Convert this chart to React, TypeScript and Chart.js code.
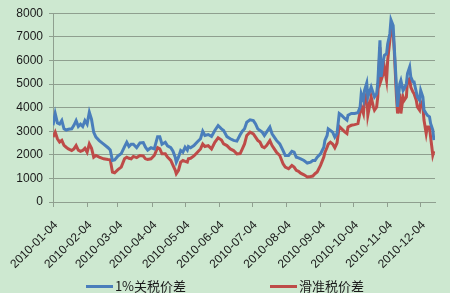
import React, { useEffect, useRef } from "react";
import { Chart, registerables } from "chart.js";

Chart.register(...registerables);

// Days since 2010-01-04
const dayOffsets = [
  0, 2, 4, 6, 8, 10, 12, 14, 17, 19, 21, 23, 25, 27, 29, 31, 33, 35, 37, 39,
  42, 46, 50, 52, 54, 56, 59, 62, 65, 67, 69, 71, 73, 76, 79, 82, 84, 86, 89, 92,
  95, 97, 99, 102, 104, 107, 109, 111, 112, 114, 116, 118, 120, 122, 123, 125, 128, 131, 134, 136,
  138, 141, 144, 147, 150, 153, 155, 158, 161, 164, 167, 170, 172, 174, 176, 179, 182, 184, 186, 188,
  190, 192, 194, 197, 199, 201, 203, 206, 209, 211, 214, 217, 219, 221, 223, 225, 228, 231, 234, 236,
  238, 240, 243, 246, 247, 249, 250, 252, 254, 256, 258, 260, 262, 265, 267, 268, 271, 274, 277, 279,
  280, 282, 283, 285, 286, 288, 289, 291, 292, 294, 295, 297, 298, 300, 301, 303, 304, 306, 307, 309,
  310, 312, 313, 315, 316, 318, 319, 321, 322, 324, 325, 327, 328, 330, 331, 333, 334, 336, 337, 339,
  340, 342, 343, 345, 346,
];

const blueValues = [
  3250, 3750, 3350, 3300, 3450, 3100, 3050, 3080, 3100, 3250, 3450, 3200, 3300, 3200, 3450, 3300, 3800, 3500, 2950, 2750,
  2600, 2450, 2300, 2200, 1760, 1780, 1950, 2050, 2350, 2530, 2350, 2450, 2450, 2300, 2500, 2520, 2320, 2200, 2300, 2250,
  2770, 2770, 2450, 2530, 2380, 2300, 2150, 1900, 1690, 1900, 2180, 2110, 2320, 2200, 2350, 2300, 2390, 2540, 2680, 3000,
  2820, 2860, 2780, 3030, 3240, 3100, 3030, 2770, 2680, 2610, 2580, 2850, 3000, 3100, 3380, 3480, 3450, 3310, 3100, 3030,
  2960, 2820, 2960, 3170, 2890, 2750, 2610, 2460, 2180, 1970, 1970, 2150, 2110, 1900, 1870, 1830, 1760, 1650, 1690, 1760,
  1760, 1900, 2040, 2320, 2610, 2820, 3100, 3030, 2960, 2750, 2900, 3750, 3680, 3540, 3470, 3680, 3750, 3750, 3780, 4030,
  4590, 4310, 4730, 5040, 4450, 4730, 4870, 4590, 4450, 4590, 5010, 6850, 5300, 6000, 6210, 6280, 6700, 7130, 7720, 7480,
  6560, 4870, 4030, 5010, 5150, 4730, 4800, 5010, 5440, 5720, 5300, 5080, 5080, 4660, 4450, 4310, 4730, 4450, 3900, 3750,
  3680, 3610, 3330, 3050, 2620,
];

const redValues = [
  2750, 2960, 2680, 2540, 2610, 2400, 2320, 2250, 2180, 2250, 2390, 2200, 2150, 2180, 2280, 2110, 2460, 2280, 1900, 1970,
  1900, 1830, 1800, 1790, 1270, 1240, 1370, 1480, 1830, 1900, 1850, 1830, 1930, 1880, 1970, 1950, 1830, 1800, 1830, 1970,
  2300, 2250, 2040, 2040, 1900, 1760, 1550, 1350, 1200, 1340, 1690, 1760, 1720, 1690, 1830, 1850, 1950, 2100, 2250, 2460,
  2350, 2390, 2250, 2530, 2720, 2630, 2460, 2390, 2250, 2180, 2040, 2050, 2250, 2460, 2820, 2960, 2890, 2750, 2610, 2540,
  2350, 2300, 2390, 2600, 2390, 2250, 2110, 1970, 1620, 1480, 1410, 1550, 1480, 1340, 1300, 1220, 1150, 1060, 1080, 1100,
  1200, 1270, 1550, 1900, 2100, 2320, 2450, 2530, 2460, 2300, 2500, 3200, 3110, 2970, 2900, 3180, 3250, 3280, 3320, 3820,
  4030, 3750, 4310, 4590, 3680, 4170, 4450, 4030, 3890, 4030, 4450, 6560, 5160, 5440, 5720, 5160, 6000, 6850, 7350, 7130,
  6420, 4450, 3750, 4590, 3750, 4450, 4310, 4450, 5160, 5230, 4870, 4660, 4590, 4310, 4030, 3890, 4240, 4030, 3470, 2900,
  3180, 3180, 2760, 1990, 2150,
];

const seriesNames = ["1%关税价差", "滑准税价差"];
const seriesColors = ["#4a7ebb", "#be4b48"];
const startDate = "2010-01-04";
const tickLabels = [
  "2010-01-04", "2010-02-04", "2010-03-04", "2010-04-04", "2010-05-04", "2010-06-04",
  "2010-07-04", "2010-08-04", "2010-09-04", "2010-10-04", "2010-11-04", "2010-12-04",
];
const yTicks = [0, 1000, 2000, 3000, 4000, 5000, 6000, 7000, 8000];

const toDay = (s: string) => {
  const [y, m, d] = s.split("-").map(Number);
  const [y0, m0, d0] = startDate.split("-").map(Number);
  return Math.round((Date.UTC(y, m - 1, d) - Date.UTC(y0, m0 - 1, d0)) / 86400000);
};

const BG = "#cde8d0";

export default function App() {
  const ref = useRef<HTMLCanvasElement | null>(null);

  useEffect(() => {
    document.body.style.margin = "0";
    const canvas = ref.current;
    if (!canvas) return;
    const tickDays = tickLabels.map(toDay);
    const mk = (vals: number[]) => dayOffsets.map((d, i) => ({ x: d, y: vals[i] }));
    const chart = new Chart(canvas, {
      type: "line",
      data: {
        datasets: [
          {
            label: seriesNames[0],
            data: mk(blueValues),
            borderColor: seriesColors[0],
            backgroundColor: seriesColors[0],
            borderWidth: 3,
            pointRadius: 0,
            tension: 0,
          },
          {
            label: seriesNames[1],
            data: mk(redValues),
            borderColor: seriesColors[1],
            backgroundColor: seriesColors[1],
            borderWidth: 3,
            pointRadius: 0,
            tension: 0,
          },
        ],
      },
      options: {
        animation: false,
        responsive: false,
        devicePixelRatio: 1,
        layout: { padding: { left: 0, right: 15, top: 13, bottom: 0 } },
        plugins: { legend: { display: false }, tooltip: { enabled: false } },
        scales: {
          x: {
            type: "linear",
            min: 0,
            max: dayOffsets[dayOffsets.length - 1] + 1,
            afterBuildTicks: (scale: any) => {
              scale.ticks = tickDays.map((v) => ({ value: v }));
            },
            afterFit: (scale: any) => {
              scale.height = 91;
              scale.paddingLeft = 0;
              scale.paddingRight = 0;
            },
            ticks: {
              autoSkip: false,
              minRotation: 45,
              maxRotation: 45,
              padding: 11,
              labelOffset: 3,
              color: "#1a1a1a",
              font: { family: "'Liberation Sans', Arial, sans-serif", size: 12 },
              callback: (v: any) => {
                const i = tickDays.indexOf(Number(v));
                return i >= 0 ? tickLabels[i] : "";
              },
            },
            grid: {
              drawOnChartArea: false,
              drawTicks: true,
              tickLength: 5,
              color: "#8f9f8f",
            },
            border: { color: "#8f9f8f", width: 1 },
          },
          y: {
            min: 0,
            max: 8000,
            afterBuildTicks: (scale: any) => {
              scale.ticks = yTicks.map((v) => ({ value: v }));
            },
            afterFit: (scale: any) => {
              scale.width = 53;
            },
            ticks: {
              padding: 6,
              color: "#1a1a1a",
              font: { family: "'Liberation Sans', Arial, sans-serif", size: 12 },
              callback: (v: any) => String(v),
            },
            grid: {
              color: "#8f9f8f",
              lineWidth: 1,
              drawTicks: true,
              tickLength: 4,
            },
            border: { color: "#8f9f8f", width: 1 },
          },
        },
      },
    });
    return () => chart.destroy();
  }, []);

  return (
    <div style={{ position: "relative", width: 450, height: 293, background: BG, overflow: "hidden" }}>
      <canvas ref={ref} width={450} height={293} style={{ display: "block" }} />
      <div
        style={{
          position: "absolute",
          left: 0,
          top: 276,
          width: 450,
          height: 20,
          display: "flex",
          justifyContent: "center",
          alignItems: "center",
          gap: 84,
          fontFamily: "'Noto Sans CJK SC', 'Liberation Sans', sans-serif",
          fontSize: 13,
          color: "#1a1a1a",
          lineHeight: "20px",
        }}
      >
        {seriesNames.map((name, i) => (
          <div key={name} style={{ display: "flex", alignItems: "center" }}>
            <span
              style={{
                display: "inline-block",
                width: 27,
                height: 3,
                background: seriesColors[i],
                marginRight: 2,
              }}
            />
            <span>{name}</span>
          </div>
        ))}
      </div>
    </div>
  );
}
